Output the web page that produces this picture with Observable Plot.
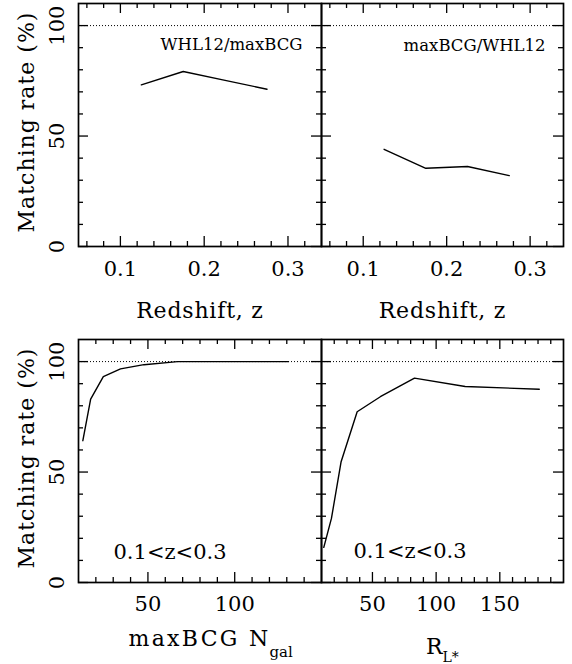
<!DOCTYPE html>
<html><head><meta charset="utf-8">
<script src="https://cdn.jsdelivr.net/npm/d3@7"></script>
<script src="https://cdn.jsdelivr.net/npm/@observablehq/plot@0.6"></script>
<style>
body{margin:0;background:#fff;}
#chart{position:relative;width:572px;height:664px;overflow:hidden;}
#chart svg{position:absolute;left:0;top:0;}
</style></head><body><div id="chart"></div>
<script>
// ---- data ----
const zBins = [0.125, 0.175, 0.225, 0.275];
const rateWHLvsMaxBCG = [73.2, 79.2, 75.2, 71.2];
const rateMaxBCGvsWHL = [44.0, 35.4, 36.2, 32.1];
const nGal = [12.5, 17, 24.3, 34.2, 47.7, 67, 95, 131];
const rateByNgal = [64.2, 83.0, 93.2, 96.7, 98.6, 100, 100, 100];
const rLstar = [11.8, 17.8, 25.4, 38, 56.2, 83, 122.8, 181];
const rateByRL = [15.9, 29.0, 54.7, 77.3, 84.1, 92.5, 88.7, 87.5];

// ---- axes / tick labels ----
const yDomain = [0, 110];
const yMajor = [0, 50, 100];
const yMinor = [10, 20, 30, 40, 60, 70, 80, 90];
const zDomain = [0.05, 0.34];
const zMajor = [0.1, 0.2, 0.3];
const zMinor = [0.06, 0.08, 0.12, 0.14, 0.16, 0.18, 0.22, 0.24, 0.26, 0.28, 0.32];
const ngDomain = [10, 150];
const ngMajor = [50, 100];
const ngMinor = [20, 30, 40, 60, 70, 80, 90, 110, 120, 130, 140];
const rlDomain = [10, 200];
const rlMajor = [50, 100, 150];
const rlMinor = [20, 30, 40, 60, 70, 80, 90, 110, 120, 130, 140, 160, 170, 180, 190];
const yTitle = "Matching rate (%)";

const W = 572, H = 664, MAJ = 10, MIN = 5;
const FONT = "DejaVu Serif";
const spacing = {"Matching rate (%)": 1, "Redshift, z": 0.8, "maxBCG N": 2.3, "R": 0};

function panel(o) {
  const pw = W - o.ml - o.mr, ph = H - o.mt - o.mb;
  const data = o.xs.map((x, i) => ({x, y: o.ys[i]}));
  const marks = [
    Plot.ruleY([100], {stroke: "#000", strokeWidth: 1, strokeDasharray: "1,2"}),
    Plot.line(data, {x: "x", y: "y", stroke: "#000", strokeWidth: 1.4}),
    Plot.ruleX(o.xMajor, {insetTop: ph - MAJ, stroke: "#000", strokeWidth: 1.3}),
    Plot.ruleX(o.xMinor, {insetTop: ph - MIN, stroke: "#000", strokeWidth: 1.3}),
    Plot.ruleX(o.xMajor, {insetBottom: ph - MAJ, stroke: "#000", strokeWidth: 1.3}),
    Plot.ruleX(o.xMinor, {insetBottom: ph - MIN, stroke: "#000", strokeWidth: 1.3}),
    Plot.ruleY(yMajor, {insetRight: pw - MAJ, stroke: "#000", strokeWidth: 1.3}),
    Plot.ruleY(yMinor, {insetRight: pw - MIN, stroke: "#000", strokeWidth: 1.3}),
    Plot.ruleY(yMajor, {insetLeft: pw - MAJ, stroke: "#000", strokeWidth: 1.3}),
    Plot.ruleY(yMinor, {insetLeft: pw - MIN, stroke: "#000", strokeWidth: 1.3}),
    Plot.frame({stroke: "#000", strokeWidth: 1.7}),
    Plot.text(o.xMajor, {x: d => d, text: o.fmt, frameAnchor: "bottom", lineAnchor: "bottom", dy: o.tickDy, fontSize: 21, fontFamily: FONT, fill: "#000"})
  ];
  if (o.yLabels) {
    marks.push(Plot.text(yMajor, {y: d => d, text: d => String(d), frameAnchor: "left", rotate: -90, textAnchor: "middle", lineAnchor: "bottom", dx: -15, fontSize: 21, fontFamily: FONT, fill: "#000"}));
    marks.push(Plot.text([yTitle], {text: d => d, frameAnchor: "left", rotate: -90, textAnchor: "middle", lineAnchor: "bottom", dx: -45, dy: o.titleDy, fontSize: 22, fontFamily: FONT, fill: "#000"}));
  }
  for (const t of o.texts) marks.push(Plot.text([t.s], {text: d => d, frameAnchor: t.fa, textAnchor: t.ta, lineAnchor: "bottom", dx: t.dx, dy: t.dy, fontSize: t.fs, fontFamily: FONT, fill: "#000"}));
  const svg = Plot.plot({
    width: W, height: H,
    marginLeft: o.ml, marginRight: o.mr, marginTop: o.mt, marginBottom: o.mb,
    x: {domain: o.xDomain, axis: null},
    y: {domain: yDomain, axis: null},
    style: {background: "transparent", overflow: "visible", fontFamily: FONT, fontSize: "21px", color: "#000"},
    marks
  });
  svg.querySelectorAll("text").forEach(el => {
    const s = spacing[el.textContent];
    if (s) el.style.letterSpacing = s + "px";
  });
  document.getElementById("chart").appendChild(svg);
}

panel({ml: 78, mr: 251, mt: 3, mb: 418, xDomain: zDomain, xMajor: zMajor, xMinor: zMinor, xs: zBins, ys: rateWHLvsMaxBCG,
  fmt: d => d.toFixed(1), tickDy: 29, yLabels: true, titleDy: -3,
  texts: [
    {s: "Redshift, z", fa: "bottom", ta: "middle", dx: 0, dy: 71, fs: 22},
    {s: "WHL12/maxBCG", fa: "top-right", ta: "end", dx: -19, dy: 46, fs: 16.5}
  ]});
panel({ml: 321, mr: 9, mt: 3, mb: 418, xDomain: zDomain, xMajor: zMajor, xMinor: zMinor, xs: zBins, ys: rateMaxBCGvsWHL,
  fmt: d => d.toFixed(1), tickDy: 29, yLabels: false,
  texts: [
    {s: "Redshift, z", fa: "bottom", ta: "middle", dx: 0, dy: 71, fs: 22},
    {s: "maxBCG/WHL12", fa: "top-right", ta: "end", dx: -18, dy: 47, fs: 16.5}
  ]});
panel({ml: 78, mr: 251, mt: 339, mb: 82, xDomain: ngDomain, xMajor: ngMajor, xMinor: ngMinor, xs: nGal, ys: rateByNgal,
  fmt: d => String(d), tickDy: 28, yLabels: true, titleDy: -3,
  texts: [
    {s: "maxBCG N", fa: "bottom-left", ta: "end", dx: 192, dy: 63, fs: 22},
    {s: "gal", fa: "bottom-left", ta: "start", dx: 191, dy: 74, fs: 15},
    {s: "0.1<z<0.3", fa: "bottom-left", ta: "start", dx: 35, dy: -24, fs: 21}
  ]});
panel({ml: 321, mr: 9, mt: 339, mb: 82, xDomain: rlDomain, xMajor: rlMajor, xMinor: rlMinor, xs: rLstar, ys: rateByRL,
  fmt: d => String(d), tickDy: 28, yLabels: false,
  texts: [
    {s: "R", fa: "bottom-left", ta: "end", dx: 121, dy: 71, fs: 22},
    {s: "L*", fa: "bottom-left", ta: "start", dx: 121, dy: 79, fs: 14},
    {s: "0.1<z<0.3", fa: "bottom-left", ta: "start", dx: 32, dy: -25, fs: 21}
  ]});
</script></body></html>
